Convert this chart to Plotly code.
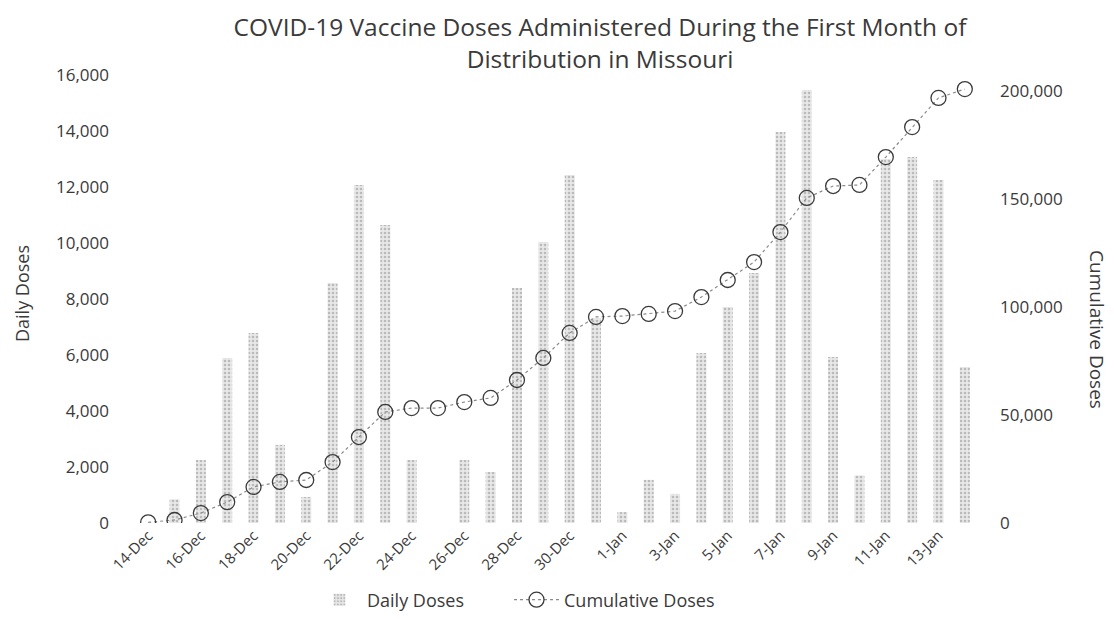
import plotly.graph_objects as go

dates = ["14-Dec", "15-Dec", "16-Dec", "17-Dec", "18-Dec", "19-Dec", "20-Dec", "21-Dec",
         "22-Dec", "23-Dec", "24-Dec", "25-Dec", "26-Dec", "27-Dec", "28-Dec", "29-Dec",
         "30-Dec", "31-Dec", "1-Jan", "2-Jan", "3-Jan", "4-Jan", "5-Jan", "6-Jan",
         "7-Jan", "8-Jan", "9-Jan", "10-Jan", "11-Jan", "12-Jan", "13-Jan", "14-Jan"]

daily_doses = [0, 850, 2250, 5890, 6790, 2790, 930, 8570,
               12070, 10640, 2250, 0, 2250, 1820, 8390, 10040,
               12430, 7320, 390, 1540, 1040, 6070, 7710, 8930,
               13960, 15460, 5930, 1700, 13000, 13070, 12250, 5570]

cumulative_doses = [300, 1400, 4600, 9700, 16700, 19000, 19900, 28200,
                    39800, 51400, 53200, 53200, 56000, 57900, 66200, 76400,
                    88000, 95400, 95800, 96800, 98100, 104600, 112500, 120800,
                    134700, 150500, 156000, 156500, 169400, 183300, 196800, 200900]

tick_labels = dates[::2]
left_ticks = [0, 2000, 4000, 6000, 8000, 10000, 12000, 14000, 16000]
right_ticks = [0, 50000, 100000, 150000, 200000]

FONT = "Open Sans"
TXT = "#3a3a3a"
# the page body has an 8px default margin, so the figure is sized to fit inside it
W, H = 1106, 636
ML, MR, MT, MB = 127, 136, 67, 121
PW, PH = W - ML - MR, H - MT - MB
LEG_Y = -(592 - (H - MB)) / PH

fig = go.Figure()
fig.add_trace(go.Bar(
    x=dates, y=daily_doses, name="Daily Doses", legend="legend",
    marker=dict(color="#e4e4e4",
                line=dict(width=0),
                pattern=dict(shape=".", fgcolor="#8c8c8c", bgcolor="#e8e8e8",
                             size=4, solidity=0.35)),
))
fig.add_trace(go.Scatter(
    x=dates, y=cumulative_doses, name="Cumulative Doses", yaxis="y2", legend="legend2",
    mode="lines+markers",
    line=dict(color="#8a8a8a", width=1.2, dash="dot"),
    marker=dict(symbol="circle-open", size=15, color="#3a3a3a", line=dict(width=1.3)),
))

leg_common = dict(orientation="h", xanchor="left", y=LEG_Y, yanchor="middle",
                  font=dict(size=18), bgcolor="rgba(0,0,0,0)", itemwidth=45)

fig.update_layout(
    width=W, height=H,
    paper_bgcolor="white", plot_bgcolor="white",
    margin=dict(l=ML, r=MR, t=MT, b=MB, autoexpand=False),
    font=dict(family=FONT, color=TXT, size=16),
    bargap=0.62,
    title=dict(text="COVID-19 Vaccine Doses Administered During the First Month of<br>Distribution in Missouri",
               x=592 / W, xref="container", xanchor="center",
               y=1 - 28 / H, yref="container", yanchor="middle",
               font=dict(family=FONT, size=24.5, color=TXT)),
    xaxis=dict(type="category", range=[-0.5, len(dates) - 0.5],
               tickmode="array", tickvals=tick_labels, ticktext=tick_labels,
               tickangle=-45, showgrid=False, showline=False, zeroline=False,
               ticks="", tickfont=dict(size=15), automargin=False),
    yaxis=dict(range=[0, 16000], tickvals=left_ticks, tickformat=",", showgrid=False,
               zeroline=False, showline=False, ticks="", ticklabelstandoff=25,
               tickfont=dict(size=17), automargin=False),
    yaxis2=dict(range=[0, 207400], overlaying="y", side="right", tickvals=right_ticks,
                tickformat=",", showgrid=False, zeroline=False, showline=False, ticks="",
                ticklabelstandoff=21, tickfont=dict(size=17), automargin=False),
    legend=dict(x=(304 - ML) / PW, **leg_common),
    legend2=dict(x=(501 - ML) / PW, **leg_common),
    showlegend=True,
    annotations=[
        dict(text="Daily Doses", xref="paper", yref="paper",
             x=-(ML - 14) / PW, y=(H - MB - 285) / PH,
             xanchor="center", yanchor="middle", textangle=-90, showarrow=False,
             font=dict(size=18, color=TXT)),
        dict(text="Cumulative Doses", xref="paper", yref="paper",
             x=1 + (1089 - (W - MR)) / PW, y=(H - MB - 321) / PH,
             xanchor="center", yanchor="middle", textangle=90, showarrow=False,
             font=dict(size=19, color=TXT)),
    ],
)

fig.write_html("out.html")
